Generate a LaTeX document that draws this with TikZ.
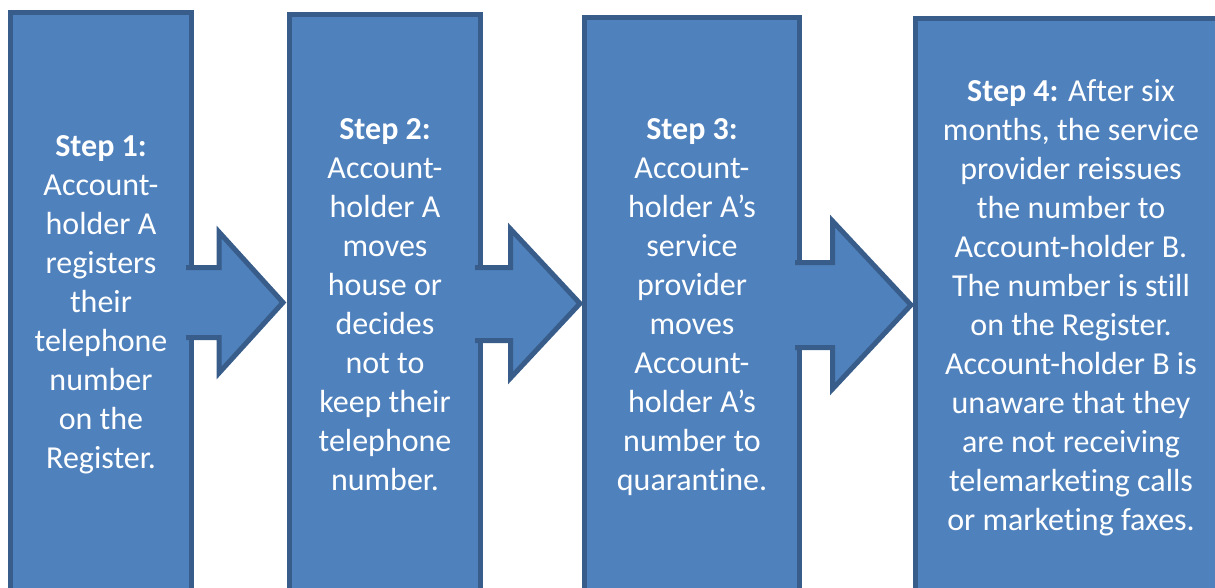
\documentclass[tikz,border=0pt]{standalone}
\usepackage{fontspec}
\setmainfont{Carlito}[Ligatures=NoCommon]
\definecolor{boxfill}{HTML}{4F81BD}
\definecolor{boxline}{HTML}{385D8A}
\begin{document}
\begin{tikzpicture}[x=1pt,y=-1pt,
  stepbox/.style={draw=boxline, fill=boxfill, line width=5pt, anchor=north west, inner sep=0pt, minimum height=600pt},
  steptext/.style={anchor=base, inner sep=0pt, text=white, font=\fontsize{32}{39}\selectfont},
  arrowfill/.style={fill=boxfill},
  arrowline/.style={draw=boxline, line width=5pt, line join=miter},
]
\useasboundingbox (0,0) rectangle (1215,588);
\clip (0,0) rectangle (1215,588);

% boxes
\node[stepbox, minimum width=181pt] (b1) at (8,10) {};
\node[stepbox, minimum width=191pt] (b2) at (287,12) {};
\node[stepbox, minimum width=215pt] (b3) at (582,15) {};
\node[stepbox, minimum width=330pt] (b4) at (913,16) {};

% block arrows
\fill[arrowfill] (186,267.5) -- (219,267.5) -- (219,232) -- (283,302.5) -- (219,373) -- (219,337.5) -- (186,337.5) -- cycle;
\draw[arrowline] (186,267.5) -- (219,267.5) -- (219,232) -- (283,302.5) -- (219,373) -- (219,337.5) -- (186,337.5);

\fill[arrowfill] (475,267.5) -- (510.5,267.5) -- (510.5,229) -- (580,303.5) -- (510.5,378) -- (510.5,340.5) -- (475,340.5) -- cycle;
\draw[arrowline] (475,267.5) -- (510.5,267.5) -- (510.5,229) -- (580,303.5) -- (510.5,378) -- (510.5,340.5) -- (475,340.5);

\fill[arrowfill] (795,262.5) -- (832.5,262.5) -- (832.5,221) -- (911,305) -- (832.5,389) -- (832.5,347.5) -- (795,347.5) -- cycle;
\draw[arrowline] (795,262.5) -- (832.5,262.5) -- (832.5,221) -- (911,305) -- (832.5,389) -- (832.5,347.5) -- (795,347.5);

% texts
\node[steptext] (t1) at (101,157) {\parbox[t]{180pt}{\centering
\textbf{Step 1:}\\ Account-\\ holder A\\ registers\\ their\\ telephone\\ number\\ on the\\ Register.}};
\node[steptext] (t2) at (385,140) {\parbox[t]{190pt}{\centering
\textbf{Step 2:}\\ Account-\\ holder A\\ moves\\ house or\\ decides\\ not to\\ keep their\\ telephone\\ number.}};
\node[steptext] (t3) at (692,140) {\parbox[t]{210pt}{\centering
\textbf{Step 3:}\\ Account-\\ holder A’s\\ service\\ provider\\ moves\\ Account-\\ holder A’s\\ number to\\ quarantine.}};
\node[steptext] (t4) at (1071,102) {\parbox[t]{320pt}{\centering
\textbf{Step 4:} After six\\ months, the service\\ provider reissues\\ the number to\\ Account-holder B.\\ The number is still\\ on the Register.\\ Account-holder B is\\ unaware that they\\ are not receiving\\ telemarketing calls\\ or marketing faxes.}};
\end{tikzpicture}
\end{document}
